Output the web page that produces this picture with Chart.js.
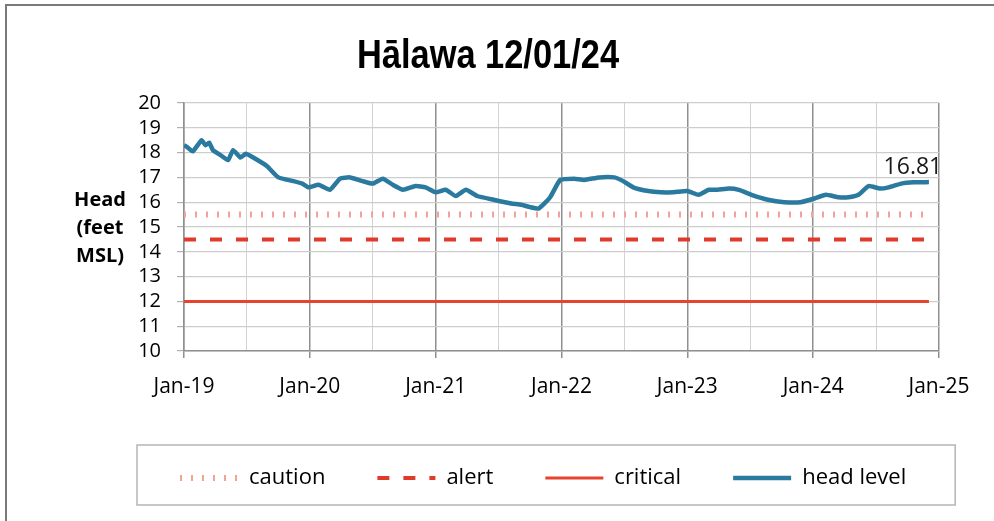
<!DOCTYPE html>
<html><head><meta charset="utf-8">
<script src="https://cdn.jsdelivr.net/npm/chart.js@4/dist/chart.umd.min.js"></script>
<style>
html,body{margin:0;padding:0;background:#fff;width:994px;height:521px;overflow:hidden}
#frame{position:absolute;left:5px;top:4px;width:1000px;height:600px;border:2px solid #7a7a7a;box-sizing:border-box}
#wrap{position:absolute;left:0;top:0;width:994px;height:521px}
</style></head><body>
<div id="frame"></div>
<div id="wrap"><canvas id="c" width="994" height="521"></canvas></div>
<script>
const chartTitle = 'Hālawa 12/01/24';
const yAxisTitle = ['Head', '(feet', 'MSL)'];
const seriesNames = ['caution', 'alert', 'critical', 'head level'];
const yearTicks = [2019, 2020, 2021, 2022, 2023, 2024, 2025];
const tickLabels = ['Jan-19', 'Jan-20', 'Jan-21', 'Jan-22', 'Jan-23', 'Jan-24', 'Jan-25'];
const dates = [2019.00, 2019.03, 2019.07, 2019.14, 2019.17, 2019.20, 2019.23, 2019.29, 2019.35, 2019.39,
  2019.45, 2019.49, 2019.55, 2019.66, 2019.75, 2019.87, 2019.94, 2019.99, 2020.07, 2020.16,
  2020.24, 2020.32, 2020.42, 2020.50, 2020.58, 2020.66, 2020.74, 2020.84, 2020.92, 2021.00,
  2021.08, 2021.16, 2021.24, 2021.33, 2021.46, 2021.60, 2021.68, 2021.75, 2021.82, 2021.91,
  2021.99, 2022.10, 2022.18, 2022.30, 2022.42, 2022.49, 2022.57, 2022.69, 2022.79, 2022.89,
  2023.00, 2023.09, 2023.17, 2023.24, 2023.33, 2023.41, 2023.51, 2023.64, 2023.77, 2023.90,
  2024.01, 2024.10, 2024.20, 2024.28, 2024.36, 2024.44, 2024.53, 2024.60, 2024.70, 2024.80, 2024.92];
const headLevel = [18.3, 18.2, 18.05, 18.5, 18.3, 18.4, 18.1, 17.9, 17.7, 18.1,
  17.8, 17.95, 17.8, 17.45, 17.0, 16.85, 16.75, 16.6, 16.7, 16.5,
  16.95, 17.0, 16.85, 16.75, 16.95, 16.7, 16.5, 16.65, 16.6, 16.4,
  16.5, 16.25, 16.5, 16.25, 16.1, 15.95, 15.9, 15.8, 15.75, 16.2,
  16.9, 16.95, 16.9, 17.0, 17.0, 16.85, 16.6, 16.45, 16.4, 16.4,
  16.45, 16.3, 16.5, 16.5, 16.55, 16.5, 16.3, 16.1, 16.0, 16.0,
  16.15, 16.3, 16.2, 16.2, 16.3, 16.65, 16.55, 16.6, 16.75, 16.8, 16.81];
const thresholdSpan = [2019.0, 2024.92];
const cautionLevel = 15.5;
const alertLevel = 14.5;
const criticalLevel = 12;
const lastValueLabel = '16.81';

const flat = v => thresholdSpan.map(x => ({x, y: v}));
const headPoints = dates.map((x, i) => ({x, y: headLevel[i]}));

const FONT = '"Open Sans", "Liberation Sans", sans-serif';

const extras = {
  id: 'extras',
  afterLayout(chart) {
    const lg = chart.legend;
    if (lg) { lg.left += 28; lg.right += 28; }
  },
  afterDraw(chart) {
    const ctx = chart.ctx;
    const area = chart.chartArea;
    // title (condensed bold)
    ctx.save();
    ctx.fillStyle = '#000';
    ctx.font = 'bold 40px "Liberation Sans", Arial, sans-serif';
    ctx.textAlign = 'center';
    ctx.textBaseline = 'alphabetic';
    ctx.scale(0.86, 1);
    ctx.fillText(chartTitle, 488 / 0.86, 68);
    ctx.restore();
    // y axis title
    ctx.save();
    ctx.fillStyle = '#000';
    ctx.font = 'bold 20px ' + FONT;
    ctx.textAlign = 'center';
    ctx.textBaseline = 'middle';
    const cy = (area.top + area.bottom) / 2 + 1;
    yAxisTitle.forEach((t, i) => ctx.fillText(t, area.left - 84, cy + (i - 1) * 28));
    ctx.restore();
    // last value label
    const meta = chart.getDatasetMeta(3);
    const last = meta.data[meta.data.length - 1];
    ctx.save();
    ctx.fillStyle = '#1a1a1a';
    ctx.font = '23px ' + FONT;
    ctx.textAlign = 'center';
    ctx.textBaseline = 'middle';
    ctx.fillText(lastValueLabel, last.x - 16, last.y - 15);
    ctx.restore();
    // legend box
    const hb = chart.legend.legendHitBoxes;
    if (hb && hb.length) {
      const lastBox = hb[hb.length - 1];
      const l = hb[0].left - 43, r = lastBox.left + lastBox.width + 49;
      const t = hb[0].top - 22, b = hb[0].top + hb[0].height + 16;
      ctx.save();
      ctx.strokeStyle = '#b5b5b5';
      ctx.lineWidth = 1.5;
      ctx.strokeRect(l, t, r - l, b - t);
      ctx.restore();
    }
  }
};

new Chart(document.getElementById('c'), {
  type: 'line',
  data: {
    datasets: [
      {label: seriesNames[0], data: flat(cautionLevel), borderColor: '#f0a396', borderWidth: 6, borderDash: [2, 9], pointRadius: 0},
      {label: seriesNames[1], data: flat(alertLevel), borderColor: '#e03a2b', borderWidth: 4, borderDash: [12, 14], pointRadius: 0},
      {label: seriesNames[2], data: flat(criticalLevel), borderColor: '#e8432f', borderWidth: 3, pointRadius: 0},
      {label: seriesNames[3], data: headPoints, borderColor: '#2a7aa0', borderWidth: 4.5, pointRadius: 0, tension: 0.15, borderJoinStyle: 'round'}
    ]
  },
  options: {
    responsive: false,
    animation: false,
    devicePixelRatio: 1,
    layout: {padding: {left: 100, right: 55, top: 103, bottom: 22}},
    plugins: {
      title: {display: false},
      tooltip: {enabled: false},
      legend: {
        position: 'bottom',
        align: 'start',
        labels: {
          usePointStyle: true, pointStyleWidth: 58, padding: 52, color: '#000', font: {family: FONT, size: 22},
          generateLabels: chart => chart.data.datasets.map((d, i) => ({
            text: d.label, datasetIndex: i, hidden: false, fontColor: '#000',
            strokeStyle: d.borderColor, fillStyle: d.borderColor,
            lineWidth: d.borderWidth, lineDash: d.borderDash || [], lineCap: 'butt',
            pointStyle: 'line', rotation: 0
          }))
        }
      }
    },
    scales: {
      x: {
        type: 'linear', min: yearTicks[0], max: yearTicks[yearTicks.length - 1],
        afterFit: s => { s.height = 64; },
        afterBuildTicks: s => { const t = []; for (let v = yearTicks[0]; v <= yearTicks[yearTicks.length - 1] + 1e-6; v += 0.5) t.push({value: v}); s.ticks = t; },
        ticks: {
          autoSkip: false, maxRotation: 0, padding: 16, color: '#000', font: {family: FONT, size: 21},
          callback: v => { const i = yearTicks.indexOf(v); return i >= 0 ? tickLabels[i] : ''; }
        },
        grid: {
          color: c => (c.tick && Number.isInteger(c.tick.value)) ? '#8f8f8f' : '#d2d2d2',
          lineWidth: c => (c.tick && Number.isInteger(c.tick.value)) ? 1.5 : 1,
          tickColor: c => (c.tick && Number.isInteger(c.tick.value)) ? '#8f8f8f' : 'rgba(0,0,0,0)',
          tickLength: 7
        },
        border: {color: '#8f8f8f', width: 1.5}
      },
      y: {
        min: 10, max: 20,
        afterFit: s => { s.width = 84; },
        ticks: {stepSize: 1, autoSkip: false, padding: 16, color: '#000', font: {family: FONT, size: 20}},
        grid: {color: '#cdcdcd', lineWidth: 1.2, tickColor: '#b0b0b0', tickLength: 7},
        border: {color: '#8f8f8f', width: 1.5}
      }
    }
  },
  plugins: [extras]
});
</script>
</body></html>
